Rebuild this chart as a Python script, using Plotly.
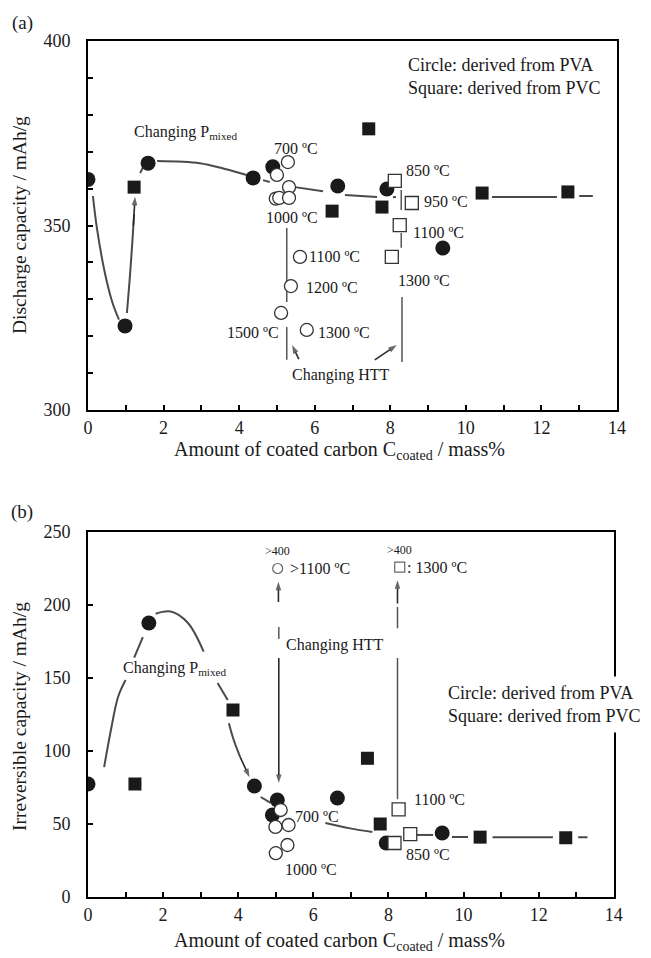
import plotly.graph_objects as go

# ---------------- Panel (a): discharge capacity ----------------
a_pva_x = [0.0, 0.98, 1.59, 4.37, 4.89, 6.61, 7.91, 9.39]
a_pva_y = [362.5, 322.8, 366.9, 362.9, 365.9, 360.7, 359.9, 343.9]
a_pvc_x = [1.22, 6.46, 7.43, 7.78, 10.43, 12.70]
a_pvc_y = [360.4, 353.9, 376.2, 355.0, 358.8, 359.1]
a_htt_pva_x = [5.29, 5.00, 5.32, 4.97, 5.06, 5.32, 5.61, 5.37, 5.11, 5.79]
a_htt_pva_y = [367.2, 363.7, 360.4, 357.3, 357.5, 357.5, 341.5, 333.6, 326.3, 321.7]
a_htt_pvc_x = [8.12, 8.57, 8.25, 8.04]
a_htt_pvc_y = [362.1, 356.1, 350.1, 341.5]

a_curve_x = [0.13, 0.24, 0.45, 0.65, 0.82, None, 1.03, 1.10, 1.17, 1.22, None,
             1.38, 1.46, None, 1.83, 2.96, 3.60, 4.20, None, 4.63, 4.81, None,
             5.48, 6.22, None, 6.80, 7.65, None, 8.07, 8.15, None,
             10.69, 12.41, None, 13.00, 13.36]
a_curve_y = [358.0, 349.0, 337.0, 329.0, 324.5, None, 326.3, 335.0, 345.0, 353.0, None,
             364.2, 365.9, None, 367.5, 366.9, 365.4, 363.7, None, 362.3, 361.8, None,
             360.4, 359.3, None, 358.3, 357.7, None, 357.7, 357.7, None,
             357.7, 357.7, None, 358.0, 358.0]

a_vline_x = [5.26, 5.26, None, 5.26, 5.26, None, 8.29, 8.29, None, 8.29, 8.29, None, 8.31, 8.31]
a_vline_y = [349.3, 329.3, None, 322.5, 313.6, None, 359.6, 354.2, None, 348.0, 344.0, None, 330.6, 313.0]

# arrows: (tail_x, tail_y, head_x, head_y)
a_arrows = [(1.20, 350.0, 1.245, 357.8),
            (5.58, 313.8, 5.40, 317.6),
            (7.59, 313.6, 8.17, 317.6)]

# ---------------- Panel (b): irreversible capacity ----------------
b_pva_x = [0.0, 1.62, 4.43, 5.04, 4.91, 6.64, 7.94, 9.43]
b_pva_y = [77.4, 187.7, 76.0, 66.4, 56.2, 67.8, 37.0, 43.8]
b_pvc_x = [1.25, 3.86, 7.44, 7.78, 10.44, 12.72]
b_pvc_y = [77.4, 128.0, 95.0, 50.0, 41.0, 40.5]
b_htt_pva_x = [5.13, 4.99, 5.34, 5.31, 5.00]
b_htt_pva_y = [59.6, 48.0, 49.3, 35.6, 30.0]
b_htt_pvc_x = [8.27, 8.58, 8.16]
b_htt_pvc_y = [60.0, 43.0, 37.0]
b_over_pva_x = [5.05]
b_over_pva_y = [225.0]
b_over_pvc_x = [8.30]
b_over_pvc_y = [226.0]

b_curve_x = [0.43, 0.60, 0.80, 1.00, None, 1.23, 1.46, None,
             1.80, 2.20, 2.65, 3.08, None, 3.45, 3.72, None,
             3.75, 3.88, 4.05, None, 4.60, 4.86, None,
             6.32, 6.98, 7.57, None, 8.76, 9.19, None, 9.69, 10.12, None,
             10.77, 12.38, None, 13.05, 13.30]
b_curve_y = [89.0, 113.0, 137.0, 148.6, None, 164.0, 178.0, None,
             194.0, 195.5, 188.0, 168.0, None, 146.6, 135.0, None,
             119.0, 107.5, 96.0, None, 68.5, 64.4, None,
             50.7, 47.0, 44.5, None, 42.5, 42.5, None, 41.1, 41.1, None,
             41.0, 41.0, None, 41.0, 41.0]

b_vline_x = [5.08, 5.08, None, 8.24, 8.24, None, 8.24, 8.24]
b_vline_y = [185.0, 176.7, None, 198.6, 184.0, None, 163.7, 67.0]

b_arrows = [(4.05, 96.0, 4.30, 82.0),
            (5.08, 163.7, 5.08, 78.0),
            (5.07, 202.0, 5.07, 216.0),
            (8.24, 201.0, 8.24, 217.0)]

FONT = "Liberation Serif, Times New Roman, serif"
INK = "#1a1a1a"
LINE = "#4a4a4a"
THIN = "#555555"

fig = go.Figure()


def add_arrows(xa, ya, arrows, color, width):
    for (tx, ty, hx, hy) in arrows:
        fig.add_trace(go.Scatter(x=[tx, hx], y=[ty, hy], mode="lines+markers", xaxis=xa, yaxis=ya,
                                 line=dict(color=color, width=width),
                                 marker=dict(symbol="arrow", size=[0, 9], color=color,
                                             angleref="previous", line=dict(width=0)),
                                 showlegend=False, hoverinfo="skip"))


def add_panel(xa, ya, curve_x, curve_y, vx, vy, arrows, pva_x, pva_y, pvc_x, pvc_y,
              hpva_x, hpva_y, hpvc_x, hpvc_y):
    fig.add_trace(go.Scatter(x=curve_x, y=curve_y, mode="lines", xaxis=xa, yaxis=ya,
                             line=dict(color=LINE, width=2, shape="spline"),
                             connectgaps=False, showlegend=False, hoverinfo="skip"))
    fig.add_trace(go.Scatter(x=vx, y=vy, mode="lines", xaxis=xa, yaxis=ya,
                             line=dict(color=THIN, width=1.5),
                             connectgaps=False, showlegend=False, hoverinfo="skip"))
    add_arrows(xa, ya, arrows, "#2a2a2a", 1.6)
    fig.add_trace(go.Scatter(x=pva_x, y=pva_y, mode="markers", xaxis=xa, yaxis=ya,
                             marker=dict(symbol="circle", size=15, color=INK,
                                         line=dict(width=0)), showlegend=False))
    fig.add_trace(go.Scatter(x=pvc_x, y=pvc_y, mode="markers", xaxis=xa, yaxis=ya,
                             marker=dict(symbol="square", size=13, color=INK,
                                         line=dict(width=0)), showlegend=False))
    fig.add_trace(go.Scatter(x=hpva_x, y=hpva_y, mode="markers", xaxis=xa, yaxis=ya,
                             marker=dict(symbol="circle", size=13, color="white",
                                         line=dict(width=1.3, color="#333333")),
                             showlegend=False))
    fig.add_trace(go.Scatter(x=hpvc_x, y=hpvc_y, mode="markers", xaxis=xa, yaxis=ya,
                             marker=dict(symbol="square", size=13, color="white",
                                         line=dict(width=1.3, color="#333333")),
                             showlegend=False))


add_panel("x", "y", a_curve_x, a_curve_y, a_vline_x, a_vline_y, a_arrows, a_pva_x, a_pva_y,
          a_pvc_x, a_pvc_y, a_htt_pva_x, a_htt_pva_y, a_htt_pvc_x, a_htt_pvc_y)
add_panel("x2", "y2", b_curve_x, b_curve_y, b_vline_x, b_vline_y, b_arrows, b_pva_x, b_pva_y,
          b_pvc_x, b_pvc_y, b_htt_pva_x, b_htt_pva_y, b_htt_pvc_x, b_htt_pvc_y)

fig.add_trace(go.Scatter(x=b_over_pva_x, y=b_over_pva_y, mode="markers", xaxis="x2", yaxis="y2",
                         marker=dict(symbol="circle", size=10, color="white",
                                     line=dict(width=1.2, color="#666666")), showlegend=False))
fig.add_trace(go.Scatter(x=b_over_pvc_x, y=b_over_pvc_y, mode="markers", xaxis="x2", yaxis="y2",
                         marker=dict(symbol="square", size=10, color="white",
                                     line=dict(width=1.2, color="#666666")), showlegend=False))

axis_common = dict(showline=True, linecolor="black", linewidth=2, mirror=True,
                   ticks="inside", ticklen=5, tickwidth=2, tickcolor="black",
                   showgrid=False, zeroline=False,
                   tickfont=dict(family=FONT, size=18, color=INK))

fig.update_layout(
    width=651, height=958,
    margin=dict(l=88, r=34, t=41, b=61),
    plot_bgcolor="white", paper_bgcolor="white",
    font=dict(family=FONT, color=INK),
    xaxis=dict(axis_common, domain=[0, 1], anchor="y", range=[0, 14], dtick=2,
               minor=dict(dtick=1, ticks="inside", ticklen=5, tickwidth=2, tickcolor="black"),
               ticklabelstandoff=0),
    yaxis=dict(axis_common, domain=[0.5689, 1], anchor="x", range=[300, 400], dtick=50,
               minor=dict(dtick=10, ticks="inside", ticklen=5, tickwidth=2, tickcolor="black"),
               ticklabelstandoff=12),
    xaxis2=dict(axis_common, domain=[0, 0.994], anchor="y2", range=[0, 14], dtick=2,
                minor=dict(dtick=1, ticks="inside", ticklen=5, tickwidth=2, tickcolor="black"),
                ticklabelstandoff=0),
    yaxis2=dict(axis_common, domain=[0, 0.4264], anchor="x2", range=[0, 250], dtick=50,
                ticklabelstandoff=12),
)

ann = []
W_PLOT = 651 - 88 - 34
H_PLOT = 958 - 41 - 61


def px2paper(px, py):
    return (px - 88) / W_PLOT, 1 - (py - 41) / H_PLOT


def t(x, y, text, xref="x", yref="y", size=16, xanchor="center", color=INK, **kw):
    ann.append(dict(x=x, y=y, xref=xref, yref=yref, text=text, showarrow=False,
                    xanchor=xanchor, yanchor="middle",
                    font=dict(family=FONT, size=size, color=color), **kw))


def tp(px, py, text, size, **kw):
    x, y = px2paper(px, py)
    t(x, y, text, xref="paper", yref="paper", size=size, **kw)


# panel labels and axis titles
tp(22, 23, "(a)", 19)
tp(22, 512, "(b)", 19)
xt = "Amount of coated carbon C<sub>coated</sub> / mass%"
tp(339, 450, xt, 20)
tp(339, 942, xt, 20)
tp(19, 225, "Discharge capacity / mAh/g", 19.5, textangle=-90)
tp(19, 717, "Irreversible capacity / mAh/g", 19.5, textangle=-90)

# panel (a) texts
t(2.57, 375.3, "Changing P<sub>mixed</sub>")
t(5.5, 371.0, "700 ºC")
t(5.4, 352.3, "1000 ºC")
t(5.80, 341.5, "1100 ºC", xanchor="left")
t(5.72, 333.3, "1200 ºC", xanchor="left")
t(5.10, 320.9, "1500 ºC", xanchor="right")
t(6.04, 320.9, "1300 ºC", xanchor="left")
t(6.69, 309.5, "Changing HTT")
t(8.37, 365.0, "850 ºC", xanchor="left")
t(8.84, 356.4, "950 ºC", xanchor="left")
t(8.55, 348.2, "1100 ºC", xanchor="left")
t(8.15, 335.0, "1300 ºC", xanchor="left")
t(8.42, 390.5, "Circle: derived from PVA<br>Square: derived from PVC", xanchor="left", size=18,
  align="left")

# panel (b) texts
t(5.05, 237.0, ">400", xref="x2", yref="y2", size=12)
t(5.33, 225.3, ">1100 ºC", xref="x2", yref="y2", xanchor="left")
t(8.30, 237.7, ">400", xref="x2", yref="y2", size=12)
t(8.44, 226.0, ": 1300 ºC", xref="x2", yref="y2", xanchor="left")
t(6.57, 172.6, "Changing HTT", xref="x2", yref="y2")
t(2.31, 156.8, "Changing P<sub>mixed</sub>", xref="x2", yref="y2")
t(5.46, 54.8, "700 ºC", xref="x2", yref="y2", xanchor="left")
t(5.19, 18.5, "1000 ºC", xref="x2", yref="y2", xanchor="left")
t(8.62, 67.0, "1100 ºC", xref="x2", yref="y2", xanchor="left")
t(8.40, 28.8, "850 ºC", xref="x2", yref="y2", xanchor="left")
t(9.40, 131.8, "Circle: derived from PVA<br>Square: derived from PVC", xref="x2", yref="y2",
  xanchor="left", size=18, align="left", bgcolor="white", borderpad=6)

fig.update_layout(annotations=ann)
fig.write_html("out.html")
